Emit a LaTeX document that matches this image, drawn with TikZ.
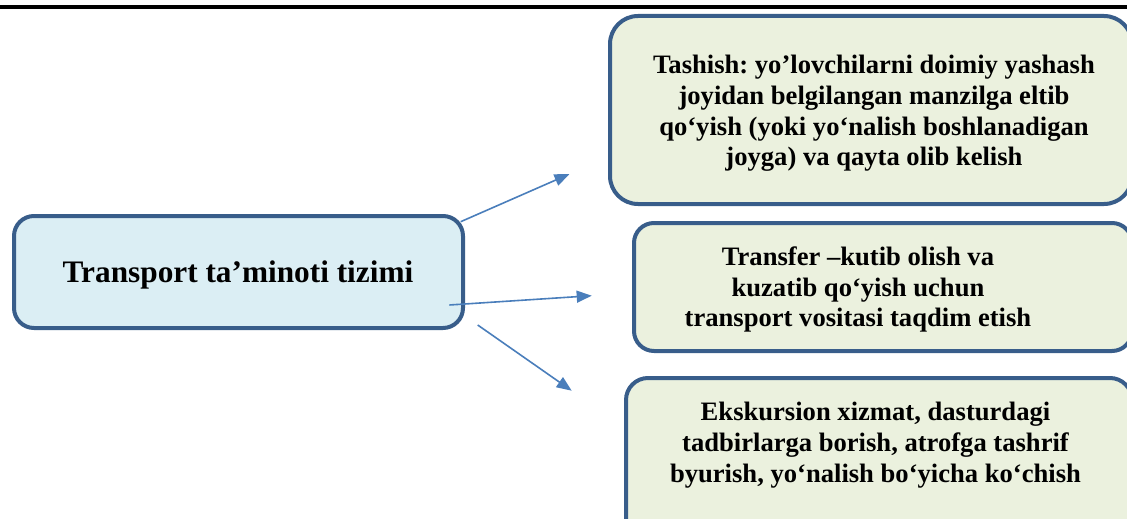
\documentclass[tikz,border=0pt]{standalone}
\usepackage{fontspec}
\setmainfont{Liberation Serif}
\usetikzlibrary{arrows.meta}
\definecolor{bordc}{HTML}{385D8A}
\definecolor{lfill}{HTML}{DBEEF4}
\definecolor{rfill}{HTML}{EBF1DE}
\definecolor{arrc}{HTML}{4A7EBB}
\frenchspacing
\begin{document}
\begin{tikzpicture}[x=1pt,y=-1pt,
  boxstyle/.style={draw=bordc, line width=4pt, inner sep=0pt, anchor=north west},
  lboxstyle/.style={boxstyle, fill=lfill},
  rboxstyle/.style={boxstyle, fill=rfill},
  rtext/.style={font=\fontsize{26.6}{30.7}\selectfont\bfseries, align=center, inner sep=0pt},
  ltext/.style={font=\fontsize{31.3}{36}\selectfont\bfseries, align=center, inner sep=0pt},
  conn/.style={draw=arrc, line width=1.6pt, -{Triangle[length=15pt,width=12pt]}}]
\useasboundingbox (0,0) rectangle (1127,519);
\coordinate (rulel) at (0,7);
\coordinate (ruler) at (1127,7);
\draw[line width=4pt] (rulel) -- (ruler);

\node[lboxstyle, rounded corners=20pt, minimum width=449pt, minimum height=112pt] (lbox) at (12,214) {};
\node[rboxstyle, rounded corners=28pt, minimum width=522pt, minimum height=188pt] (box1) at (608,14) {};
\node[rboxstyle, rounded corners=20pt, minimum width=498pt, minimum height=128pt] (box2) at (632,221) {};
\node[rboxstyle, rounded corners=22pt, minimum width=506pt, minimum height=164pt] (box3) at (624,376) {};

\node[ltext] (ltxt) at (238,274.6) {Transport ta’minoti tizimi};
\node[rtext] (txt1) at (874,113.4) {Tashish: yo’lovchilarni doimiy yashash\\joyidan belgilangan manzilga eltib\\qo‘yish (yoki yo‘nalish boshlanadigan\\joyga) va qayta olib kelish};
\node[rtext] (txt2) at (858,289.7) {Transfer –kutib olish va\\kuzatib qo‘yish uchun\\transport vositasi taqdim etish};
\node[rtext] (txt3) at (875.5,445.3) {Ekskursion xizmat, dasturdagi\\tadbirlarga borish, atrofga tashrif\\byurish, yo‘nalish bo‘yicha ko‘chish};

\coordinate (a1s) at (460.7,221.7);
\coordinate (a1e) at (569.5,174);
\coordinate (a2s) at (449.3,305);
\coordinate (a2e) at (591.7,295.7);
\coordinate (a3s) at (477.7,325);
\coordinate (a3e) at (571.7,390.7);
\draw[conn] (a1s) -- (a1e);
\draw[conn] (a2s) -- (a2e);
\draw[conn] (a3s) -- (a3e);
\end{tikzpicture}
\end{document}
